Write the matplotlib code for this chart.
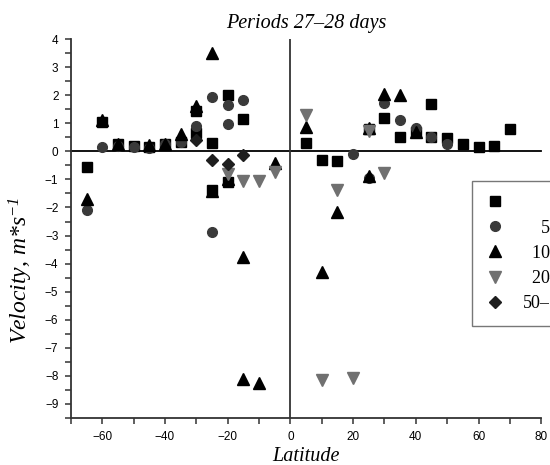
import numpy as np
import matplotlib
matplotlib.use('Agg')
from matplotlib import pyplot as plt
from matplotlib.ticker import MultipleLocator

plt.rcParams['font.family'] = ['Liberation Serif', 'DejaVu Serif']
plt.rcParams['mathtext.fontset'] = 'custom'
plt.rcParams['mathtext.rm'] = 'Liberation Serif:italic'
plt.rcParams['mathtext.it'] = 'Liberation Serif:italic'

# Data (latitude, velocity m/s)
sq_lat = [-65, -60, -55, -50, -45, -40, -35, -30, -30, -25, -25, -20, -20, -15,
          5, 10, 15, 25, 30, 35, 40, 45, 45, 50, 55, 60, 65, 70]
sq_val = [-0.55, 1.05, 0.25, 0.2, 0.17, 0.25, 0.35, 0.65, 1.43, 0.31, -1.39, 2.02, -1.09, 1.16,
          0.3, -0.32, -0.33, 0.8, 1.19, 0.51, 0.7, 1.7, 0.52, 0.47, 0.25, 0.14, 0.18, 0.81]

ci_lat = [-65, -60, -55, -50, -45, -40, -35, -30, -25, -25, -20, -20, -15,
          20, 25, 25, 30, 35, 40, 45, 50]
ci_val = [-2.08, 0.15, 0.2, 0.17, 0.12, 0.25, 0.35, 0.9, 1.94, -2.88, 1.66, 0.99, 1.82,
          -0.11, 0.78, -0.95, 1.73, 1.1, 0.83, 0.51, 0.25]

tr_lat = [-65, -60, -55, -45, -40, -35, -30, -25, -25, -20, -15, -15, -10, -5,
          5, 10, 15, 25, 25, 30, 35, 40]
tr_val = [-1.69, 1.1, 0.25, 0.22, 0.27, 0.63, 1.6, 3.5, -1.4, -0.97, -3.77, -8.1, -8.24, -0.4,
          0.87, -4.3, -2.16, 0.82, -0.88, 2.05, 2.02, 0.69]

inv_lat = [-20, -15, -10, -5, 5, 10, 15, 20, 25, 30]
inv_val = [-0.8, -1.06, -1.06, -0.74, 1.28, -8.16, -1.37, -8.06, 0.72, -0.77]

di_lat = [-30, -25, -20, -15]
di_val = [0.42, -0.3, -0.44, -0.14]

# legend labels (cut off by the right edge in the original), padded to right-align
FS = '\u2007'
labels = [FS * 3 + '1–5', FS * 2 + '5–10', FS + '10–20', FS + '20–50', '50–100']

fig = plt.figure(figsize=(5.5, 4.65), dpi=100)
ax = fig.add_axes([0.129, 0.101, 0.855, 0.815])

ax.plot(sq_lat, sq_val, 's', color='black', ms=6.5, label=labels[0], zorder=3)
ax.plot(ci_lat, ci_val, 'o', color='#3a3a3a', ms=7, label=labels[1], zorder=3)
ax.plot(tr_lat, tr_val, '^', color='black', ms=8, label=labels[2], zorder=3)
ax.plot(inv_lat, inv_val, 'v', color='#707070', ms=8, label=labels[3], zorder=3)
ax.plot(di_lat, di_val, 'D', color='#1e1e1e', ms=6, label=labels[4], zorder=3)

ax.axhline(0, color='black', lw=1.3, zorder=2, clip_on=False)
ax.axvline(0, color='#333333', lw=1.3, zorder=2)

ax.set_xlim(-70, 80)
ax.set_ylim(-9.5, 4)
ax.xaxis.set_major_locator(MultipleLocator(20))
ax.xaxis.set_minor_locator(MultipleLocator(10))
ax.yaxis.set_major_locator(MultipleLocator(1))
ax.yaxis.set_minor_locator(MultipleLocator(0.5))
ax.tick_params(which='both', direction='out', length=4, width=1.1, color='#333333')
ax.tick_params(labelsize=8.5, pad=5)
for lab in ax.get_xticklabels() + ax.get_yticklabels():
    lab.set_family('Liberation Sans')

for side in ['top', 'right']:
    ax.spines[side].set_visible(False)
for side in ['left', 'bottom']:
    ax.spines[side].set_linewidth(1.3)
    ax.spines[side].set_color('#333333')

ax.set_title('Periods 27–28 days', style='italic', fontsize=14.5, pad=8)
ax.set_xlabel('Latitude', style='italic', fontsize=14.5, labelpad=3)
ax.set_ylabel('Velocity, m*s$^{-1}$', style='italic', fontsize=17)
ax.yaxis.set_label_coords(-0.077, 0.39)

leg = fig.legend(loc='upper left', bbox_to_anchor=(472 / 550, 1 - 181 / 465),
                 fontsize=13, frameon=True, fancybox=False, borderpad=0.75,
                 borderaxespad=0, labelspacing=0.45, handlelength=1.0,
                 handletextpad=1.07)
leg.get_frame().set_edgecolor('#555555')
leg.get_frame().set_linewidth(1.0)

fig.savefig('out.png', dpi=100)
